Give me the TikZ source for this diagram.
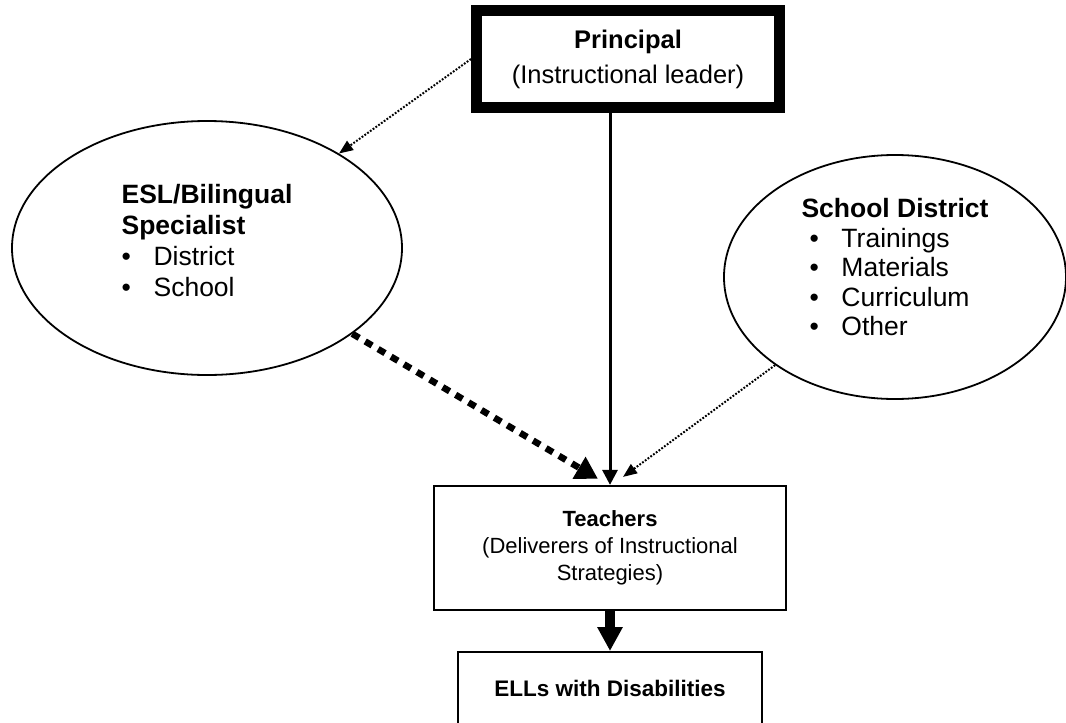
\documentclass[tikz,border=0pt]{standalone}
\usepackage{fontspec}
\setmainfont{Liberation Sans}
\usetikzlibrary{arrows.meta,shapes.geometric}
\begin{document}
\begin{tikzpicture}[x=1pt,y=-1pt,
  prinbox/.style={draw, line width=11pt, minimum width=303pt, minimum height=97pt, inner sep=0pt, align=center},
  oval/.style={ellipse, draw, line width=1.8pt, inner sep=0pt, align=left},
  plainbox/.style={draw, line width=2.2pt, inner sep=0pt, align=center},
  dotarrow/.style={line width=2pt, dash pattern=on 1.8pt off 1.6pt, -{Triangle[length=14pt,width=11pt]}},
  dasharrow/.style={line width=6.5pt, dash pattern=on 8pt off 7pt, -{Triangle[length=22pt,width=24pt]}},
  solidarrow/.style={line width=3pt, -{Triangle[length=15pt,width=15pt]}},
  fatarrow/.style={line width=10pt, -{Triangle[length=24pt,width=24pt]}}
]
\useasboundingbox (0,0) rectangle (1066,723);
\clip (0,0) rectangle (1066,723);
\fill[white] (0,0) rectangle (1066,723);

\node[prinbox, font=\fontsize{25.5}{35}\selectfont] (prin) at (628,59)
  {\textbf{Principal}\\(Instructional leader)};

\node[oval, minimum width=390pt, minimum height=254pt, font=\fontsize{26.5}{31}\selectfont] (esl) at (207,248)
  {\textbf{ESL/Bilingual}\\\textbf{Specialist}\\\makebox[32pt][l]{•}District\\\makebox[32pt][l]{•}School\rule[-16pt]{0pt}{1pt}};

\node[oval, minimum width=342pt, minimum height=244pt, font=\fontsize{26.5}{29.5}\selectfont] (sd) at (895,277)
  {\textbf{School District}\\\hspace*{8pt}\makebox[32pt][l]{•}Trainings\\\hspace*{8pt}\makebox[32pt][l]{•}Materials\\\hspace*{8pt}\makebox[32pt][l]{•}Curriculum\\\hspace*{8pt}\makebox[32pt][l]{•}Other\rule[-20pt]{0pt}{1pt}};

\node[plainbox, minimum width=352pt, minimum height=124pt, font=\fontsize{22}{27}\selectfont] (teach) at (610,548)
  {\textbf{Teachers}\\(Deliverers of Instructional\\Strategies)};

\node[plainbox, minimum width=304pt, anchor=north, text height=44pt, text depth=60pt, font=\fontsize{22.5}{27}\selectfont\bfseries] (ell) at (610,651)
  {ELLs with Disabilities};

\coordinate (tipL) at ([xshift=-12pt,yshift=6pt]teach.north);
\coordinate (tipR) at ([xshift=13pt,yshift=8pt]teach.north);

\draw[dotarrow] (prin.west) -- (esl);
\draw[solidarrow] (teach.north |- prin.south) -- (teach.north);
\draw[dasharrow] (esl) -- (tipL);
\draw[dotarrow] (sd) -- (tipR);
\draw[fatarrow] (teach.south) -- (ell.north);
\end{tikzpicture}
\end{document}
